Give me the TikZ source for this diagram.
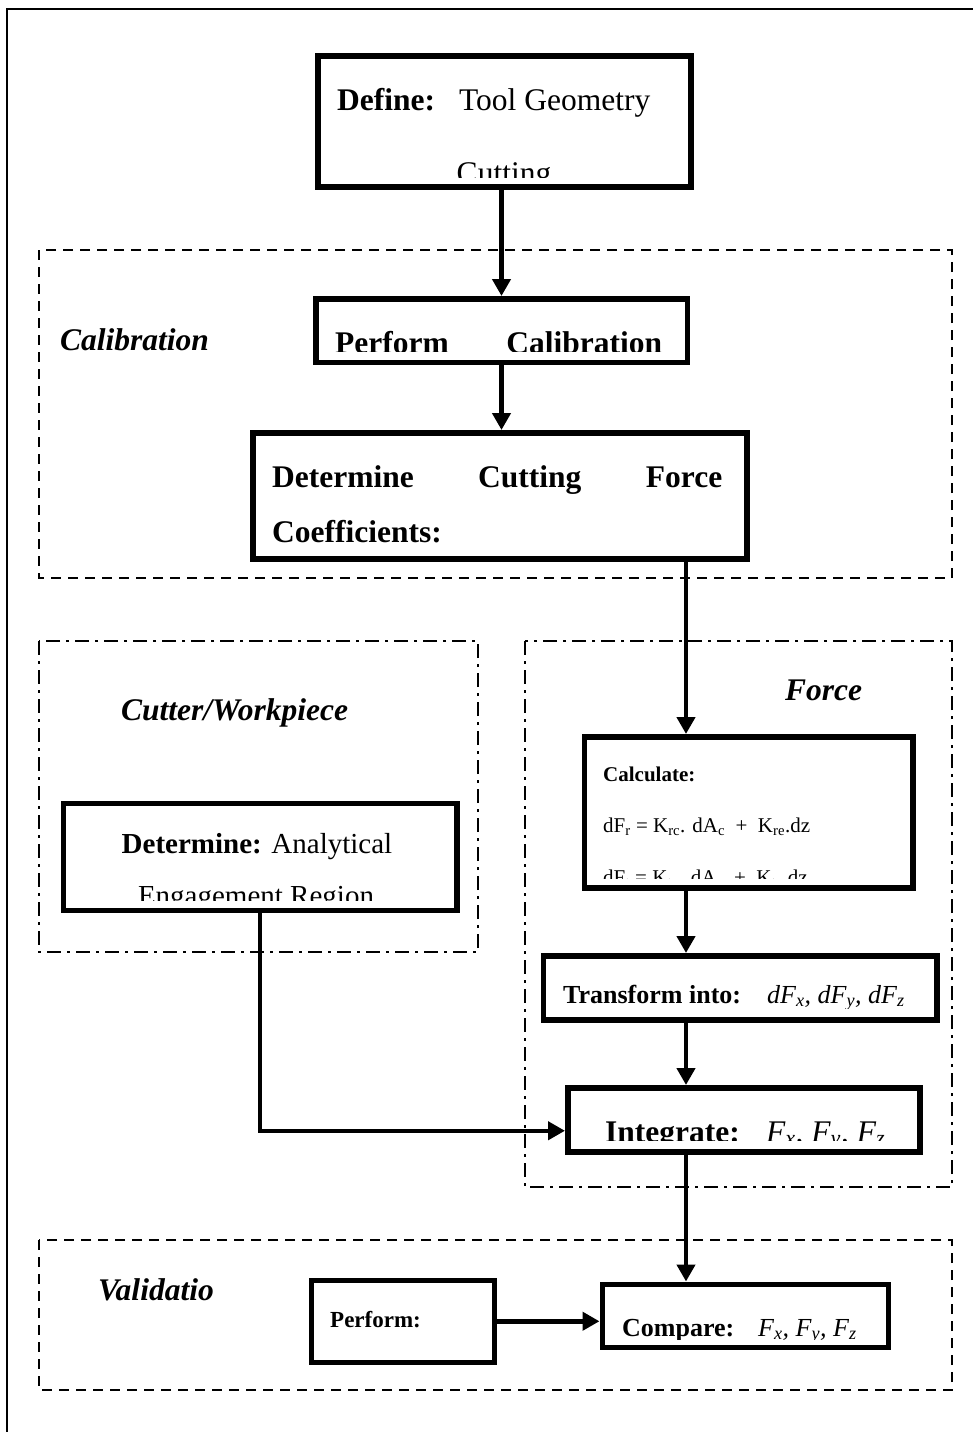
\documentclass[tikz,border=0pt]{standalone}
\usepackage{fontspec}
\setmainfont{Liberation Serif}
\usetikzlibrary{arrows.meta}

\begin{document}
\begin{tikzpicture}[x=1pt, y=-1pt,
  box/.style={draw, line width=5.5pt, anchor=north west, inner sep=0pt},
  grpdash/.style={line width=2.2pt, dash pattern=on 10pt off 7pt},
  grpdot/.style={line width=2.2pt, dash pattern=on 14pt off 6pt on 3pt off 6pt},
  arr/.style={line width=4.5pt, -{Triangle[length=17pt, width=18pt]}},
  lbl/.style={inner sep=0pt, anchor=base west},
  big/.style={lbl, font=\fontsize{31.5}{38}\selectfont},
  mid/.style={lbl, font=\fontsize{29}{35}\selectfont},
  sml/.style={lbl, font=\fontsize{26}{31}\selectfont},
  tiny/.style={lbl, font=\fontsize{21}{25}\selectfont},
  grp/.style={big, font=\fontsize{31.5}{38}\selectfont\bfseries\itshape}]
  \clip (0,0) rectangle (973,1432);
  % page frame, only left and top edges fall inside
  \draw[line width=2.2pt] (7,9) rectangle (990,1450);
  % groups
  \draw[grpdash] (39,250) rectangle (952,578);
  \draw[grpdot] (39,641) rectangle (478,952);
  \draw[grpdot] (525,641) rectangle (952,1187);
  \draw[grpdash] (39,1240) rectangle (952,1390);
  \node[grp] (gcal) at (60,350) {Calibration};
  \node[grp] (gcut) at (121,720) {Cutter/Workpiece};
  \node[grp] (gfor) at (785,700) {Force};
  \node[grp] (gval) at (98,1300) {Validatio};
  % boxes
  \node[box, minimum width=373pt, minimum height=131pt] (define) at (315,53) {};
  \node[box, minimum width=371.5pt, minimum height=63.5pt] (calib) at (313,296) {};
  \node[box, minimum width=494pt, minimum height=126pt] (coeff) at (250,430) {};
  \node[box, minimum width=393.5pt, minimum height=107pt] (engage) at (60.5,800.5) {};
  \node[box, minimum width=328.5pt, minimum height=151pt] (calc) at (581.5,734) {};
  \node[box, minimum width=393.5pt, minimum height=64pt] (transform) at (540.5,953) {};
  \node[box, minimum width=352pt, minimum height=64pt] (integrate) at (565,1085) {};
  \node[box, minimum width=183pt, minimum height=82pt] (perform) at (308.5,1277.5) {};
  \node[box, minimum width=286pt, minimum height=63pt] (compare) at (599.5,1281.5) {};
  % box texts, cut off at the lower edge as in the scan
  \begin{scope}
    \clip (define.north west) rectangle ([yshift=12pt]define.south east);
    \node[big] (def1) at (337,110) {\textbf{Define:}\hspace{24pt}Tool Geometry};
    \node[big, anchor=base] (def2) at (504,183) {Cutting};
  \end{scope}
  \begin{scope}
    \clip (calib.north west) rectangle ([yshift=14pt]calib.south east);
    \node[big] (cal1) at (335,353) {\bfseries\makebox[327pt][s]{Perform Calibration}};
  \end{scope}
  \node[big] (co1) at (272,487) {\bfseries\makebox[450pt][s]{Determine Cutting Force}};
  \node[big] (co2) at (272,542) {\bfseries Coefficients:};
  \begin{scope}
    \clip (engage.north west) rectangle ([yshift=13pt]engage.south east);
    \node[mid, anchor=base] (en1) at (257,853) {\textbf{Determine:} Analytical};
    \node[mid, anchor=base] (en2) at (256,905) {Engagement Region};
  \end{scope}
  \begin{scope}
    \clip (calc.north west) rectangle ([yshift=12.5pt]calc.south east);
    \node[tiny] (ca1) at (603,781) {\textbf{Calculate:}};
    \node[tiny] (ca2) at (603,832) {dF\textsubscript{r} = K\textsubscript{rc}. dA\textsubscript{c} \ + \ K\textsubscript{re}.dz};
    \node[tiny] (ca3) at (603,884) {dF\textsubscript{t} = K\textsubscript{tc}. dA\textsubscript{c} \ + \ K\textsubscript{te}.dz};
  \end{scope}
  \begin{scope}
    \clip (transform.north west) rectangle ([yshift=14.5pt]transform.south east);
    \node[sml] (tr1) at (563,1003) {\textbf{Transform into:}};
    \node[sml] (tr2) at (767,1003) {\itshape dF\textsubscript{x}, dF\textsubscript{y}, dF\textsubscript{z}};
  \end{scope}
  \begin{scope}
    \clip (integrate.north west) rectangle ([yshift=14pt]integrate.south east);
    \node[big] (in1) at (605,1142) {\textbf{Integrate:}};
    \node[big] (in2) at (766,1142) {\itshape F\textsubscript{x}, F\textsubscript{y}, F\textsubscript{z}};
  \end{scope}
  \node[sml, font=\fontsize{23}{28}\selectfont] (pe1) at (330,1327) {\textbf{Perform:}};
  \begin{scope}
    \clip (compare.north west) rectangle ([yshift=11pt]compare.south east);
    \node[sml] (cm1) at (622,1336) {\textbf{Compare:}};
    \node[sml] (cm2) at (758,1336) {\itshape F\textsubscript{x}, F\textsubscript{y}, F\textsubscript{z}};
  \end{scope}
  % connectors
  \coordinate (tap) at (686,0);
  \draw[arr] (calib.north |- define.south) -- (calib.north);
  \draw[arr] (calib.south) -- (calib.south |- coeff.north);
  \draw[arr] (tap |- coeff.south) -- (tap |- calc.north);
  \draw[arr] (tap |- calc.south) -- (tap |- transform.north);
  \draw[arr] (tap |- transform.south) -- (tap |- integrate.north);
  \draw[arr] (tap |- integrate.south) -- (tap |- compare.north);
  \draw[arr] (engage.south) |- ([yshift=-11pt]integrate.west);
  \draw[arr] (perform.east) -- (perform.east -| compare.west);
\end{tikzpicture}
\end{document}
